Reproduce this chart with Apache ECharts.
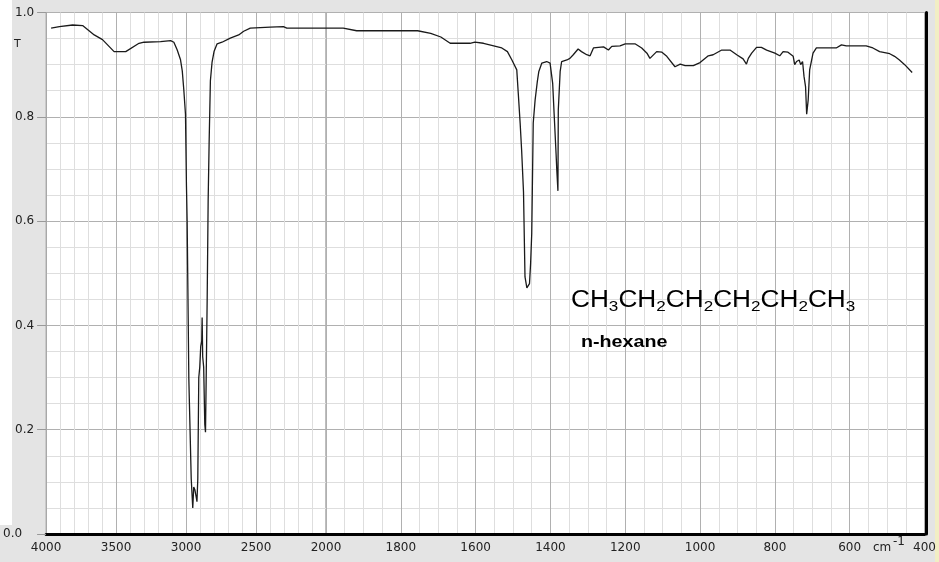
<!DOCTYPE html>
<html><head><meta charset="utf-8">
<script src="https://cdn.jsdelivr.net/npm/echarts@6/dist/echarts.min.js"></script>
<style>html,body{margin:0;padding:0;background:#e4e4e4;overflow:hidden}#c{width:939px;height:562px}</style>
</head><body><div id="c"></div>
<script>
// Wavenumber (cm-1) and transmittance
const wavenumber = [
 3964,3905,3810,3739,3656,3597,3514,3431,3336,3300,
 3182,3110,3087,3063,3040,3027,3016,3004,2997,2992,
 2980,2963,2952,2945,2937,2927,2922,2916,2909,2902,
 2895,2888,2885,2881,2874,2866,2861,2856,2849,2842,
 2835,2826,2814,2800,2778,2743,2684,2624,2588,2541,
 2399,2304,2280,2000,1954,1918,1755,1720,1693,1668,
 1615,1602,1579,1557,1530,1515,1503,1490,1486,1481,
 1477,1472,1468,1463,1456,1453,1450,1446,1441,1435,
 1431,1423,1410,1401,1394,1390,1385,1383,1380,1379,
 1374,1370,1356,1352,1348,1339,1326,1317,1303,1294,
 1285,1258,1245,1236,1214,1200,1174,1156,1142,1134,
 1116,1102,1089,1067,1053,1040,1018,1000,978,965,
 942,920,902,885,876,871,862,849,836,822,
 800,787,778,765,751,747,742,735,731,726,
 722,718,715,711,707,698,689,636,622,609,
 556,538,520,493,480,467,453,433
];
const transmittance = [
 .970,.973,.976,.975,.957,.948,.925,.925,.941,.943,
 .944,.946,.943,.928,.910,.888,.852,.805,.667,.598,
 .297,.106,.050,.090,.085,.070,.062,.106,.300,.320,
 .360,.370,.415,.340,.320,.210,.195,.300,.450,.640,
 .751,.869,.905,.925,.940,.943,.951,.957,.964,.970,
 .972,.973,.970,.970,.970,.965,.965,.960,.953,.941,
 .941,.943,.941,.937,.932,.925,.909,.890,.845,.788,
 .736,.656,.493,.472,.480,.519,.576,.788,.832,.868,
 .887,.903,.906,.903,.864,.804,.730,.698,.658,.813,
 .887,.906,.909,.906,.912,.919,.930,.925,.919,.917,
 .932,.934,.928,.935,.936,.940,.940,.932,.922,.912,
 .925,.924,.916,.896,.901,.898,.898,.904,.917,.919,
 .928,.928,.919,.911,.901,.912,.922,.933,.933,.928,
 .922,.917,.925,.924,.916,.900,.906,.909,.900,.906,
 .877,.858,.805,.832,.890,.922,.932,.932,.938,.936,
 .936,.932,.925,.921,.916,.909,.900,.885
];
// Axis ranges: the wavenumber axis changes scale at 2000 cm-1
const highRange = [2000, 4000];
const lowRange = [400, 2000];
const yTickLabels = ['0.0','0.2','0.4','0.6','0.8','1.0'];
const formulaParts = [['CH','3'],['CH','2'],['CH','2'],['CH','2'],['CH','2'],['CH','3']];
const compoundName = 'n-hexane';

const highData = [], lowData = [];
wavenumber.forEach((w, i) => {
  if (w >= 2000) highData.push([w, transmittance[i]]);
  if (w <= 2000) lowData.push([w, transmittance[i]]);
});

const FONT = 'DejaVu Sans';
const major = '#b0b0b0', minor = '#dedede';
function xAxisCfg(grid, range, interval, split, fmt) {
  return {
    gridIndex: grid, type: 'value', min: range[0], max: range[1], interval: interval, inverse: true,
    axisLine: {show: true, onZero: false, lineStyle: {color: '#000', width: 3}},
    axisTick: {show: false},
    axisLabel: {fontFamily: FONT, fontSize: 12, color: '#222', margin: 8, formatter: fmt},
    splitLine: {show: true, lineStyle: {color: major, width: 1}},
    minorTick: {show: false, splitNumber: split},
    minorSplitLine: {show: true, lineStyle: {color: minor, width: 1}}
  };
}
function yAxisCfg(grid, pos, show) {
  return {
    gridIndex: grid, type: 'value', min: 0, max: 1, interval: 0.2, position: pos,
    offset: pos === 'right' ? 1.5 : 0,
    axisLine: {show: true, lineStyle: show ? {color: '#a8a8a8', width: 1} : {color: '#000', width: 3}},
    axisTick: {show: show, length: 9, lineStyle: {color: '#999'}},
    axisLabel: {show: show, fontFamily: FONT, fontSize: 12, color: '#222', margin: 12,
      formatter: v => { const s = yTickLabels[Math.round(v * 5)]; return v === 0 ? '{z|' + s + '}' : s; },
      rich: {z: {fontFamily: FONT, fontSize: 12, color: '#222', padding: [0, 12, 0, 0]}}},
    splitLine: {show: true, lineStyle: {color: major, width: 1}},
    minorTick: {show: false, splitNumber: 4},
    minorSplitLine: {show: true, lineStyle: {color: minor, width: 1}}
  };
}

const formulaText = formulaParts.map(p => '{m|' + p[0] + '}{s|' + p[1] + '}').join('');

const chart = echarts.init(document.getElementById('c'), null, {renderer: 'canvas'});
chart.setOption({
  backgroundColor: '#e4e4e4',
  animation: false,
  grid: [
    {left: 45, top: 12.5, width: 281, height: 521.5, show: true, backgroundColor: '#fff', borderColor: '#a8a8a8', borderWidth: 1},
    {left: 326, top: 12.5, width: 598.5, height: 521.5, show: true, backgroundColor: '#fff', borderColor: '#a8a8a8', borderWidth: 1}
  ],
  xAxis: [
    xAxisCfg(0, highRange, 500, 5, v => String(v)),
    xAxisCfg(1, lowRange, 200, 4, v => v === 2000 ? '' : String(v))
  ],
  yAxis: [yAxisCfg(0, 'left', true), yAxisCfg(1, 'right', false)],
  series: [
    {type: 'line', xAxisIndex: 0, yAxisIndex: 0, data: highData, showSymbol: false, symbol: 'none',
     lineStyle: {color: '#1a1a1a', width: 1.3}, z: 5},
    {type: 'line', xAxisIndex: 1, yAxisIndex: 1, data: lowData, showSymbol: false, symbol: 'none',
     lineStyle: {color: '#1a1a1a', width: 1.3}, z: 5}
  ],
  graphic: [
    {type: 'rect', left: 0, top: 0, shape: {width: 12, height: 525}, style: {fill: '#ffffff'}, z: -10, silent: true},
    {type: 'rect', left: 935, top: 0, shape: {width: 4, height: 562}, style: {fill: '#f2eec4'}, silent: true},
    {type: 'text', left: 14, top: 39, style: {text: 'T', fontFamily: FONT, fontSize: 11, fill: '#222'}},
    {type: 'text', left: 873, top: 542, style: {text: 'cm', fontFamily: FONT, fontSize: 12, fill: '#222'}},
    {type: 'text', left: 893, top: 535.5, style: {text: '-1', fontFamily: FONT, fontSize: 12, fill: '#222'}},
    {type: 'text', left: 571, top: 289, scaleX: 1.14, z: 10,
     style: {text: formulaText,
       rich: {m: {fontSize: 23, fontFamily: 'Liberation Sans', fill: '#000', lineHeight: 28, verticalAlign: 'middle'},
              s: {fontSize: 15, fontFamily: 'Liberation Sans', fill: '#000', lineHeight: 12, verticalAlign: 'bottom'}}}},
    {type: 'text', left: 581, top: 335, scaleX: 1.23, z: 10,
     style: {text: compoundName, fontSize: 16, fontWeight: 'bold', fontFamily: 'Liberation Sans', fill: '#000'}}
  ]
});
</script>
</body></html>
